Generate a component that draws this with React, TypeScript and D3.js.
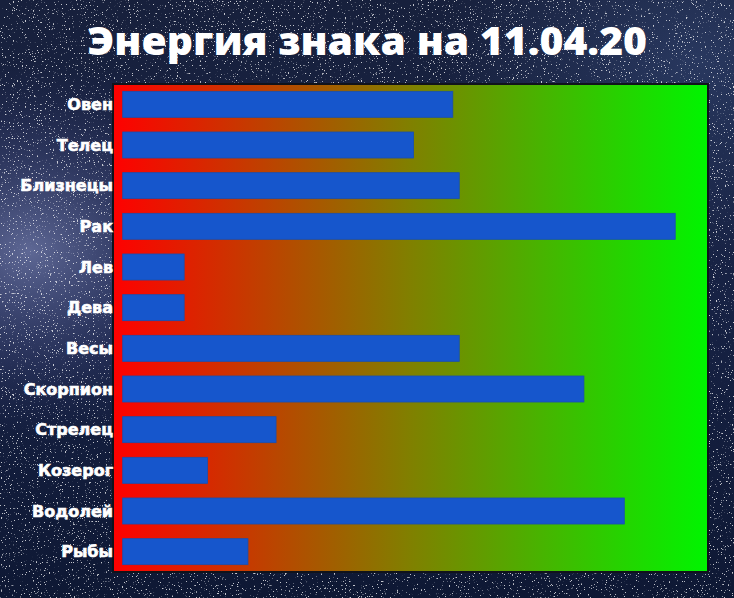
import React from "react";
import * as d3 from "d3";

const signs = ["Овен", "Телец", "Близнецы", "Рак", "Лев", "Дева", "Весы", "Скорпион", "Стрелец", "Козерог", "Водолей", "Рыбы"];
const energy = [56.4, 49.7, 57.5, 94.4, 10.5, 10.5, 57.5, 78.8, 26.2, 14.5, 85.7, 21.4];
const titleText = "Энергия знака на 11.04.20";

const W = 734;
const H = 598;
const plot = { left: 113, top: 84, right: 708, bottom: 572 };
const barStart = 122.7;

export default function App() {
  const y = d3.scaleBand<string>().domain(signs).range([plot.top, plot.bottom]).paddingInner(0.36).paddingOuter(0.18);
  const x = d3.scaleLinear().domain([0, 100]).range([barStart, plot.right]);

  return (
    <svg width={W} height={H} style={{ position: "fixed", left: 0, top: 0, display: "block" }}>
      <defs>
        <linearGradient id="bg" x1="0" y1="0" x2="0" y2="1">
          <stop offset="0" stopColor="#17203c" />
          <stop offset="0.5" stopColor="#172244" />
          <stop offset="1" stopColor="#0e1834" />
        </linearGradient>
        <radialGradient id="milky" cx="0.04" cy="0.42" r="0.32">
          <stop offset="0" stopColor="#7d86b8" stopOpacity="0.7" />
          <stop offset="0.6" stopColor="#4a5288" stopOpacity="0.3" />
          <stop offset="1" stopColor="#2a3060" stopOpacity="0" />
        </radialGradient>
        <radialGradient id="glowR" cx="0.95" cy="0.1" r="0.35">
          <stop offset="0" stopColor="#3a4f80" stopOpacity="0.5" />
          <stop offset="1" stopColor="#3a4f80" stopOpacity="0" />
        </radialGradient>
        <filter id="stars" x="0" y="0" width="1" height="1">
          <feTurbulence type="fractalNoise" baseFrequency="0.75" numOctaves="2" seed="7" result="n" />
          <feColorMatrix in="n" type="matrix" values="0 0 0 0 1  0 0 0 0 1  0 0 0 0 1  14 0 0 0 -9.3" />
        </filter>
        <linearGradient id="energyGrad" x1="0" y1="0" x2="1" y2="0">
          <stop offset="0" stopColor="#ff0000" />
          <stop offset="0.5" stopColor="#808000" />
          <stop offset="1" stopColor="#00f500" />
        </linearGradient>
      </defs>

      <rect x={0} y={0} width={W} height={H} fill="url(#bg)" />
      <rect x={0} y={0} width={W} height={H} fill="url(#milky)" />
      <rect x={0} y={0} width={W} height={H} fill="url(#glowR)" />
      <rect x={0} y={0} width={W} height={H} filter="url(#stars)" opacity={0.75} />

      <text
        x={W / 2}
        y={55}
        textAnchor="middle"
        fill="#ffffff"
        fontFamily="'Open Sans', 'DejaVu Sans', sans-serif"
        fontWeight={800}
        fontSize={39}
        textLength={560}
        lengthAdjust="spacingAndGlyphs"
      >
        {titleText}
      </text>

      <rect
        x={plot.left}
        y={plot.top}
        width={plot.right - plot.left}
        height={plot.bottom - plot.top}
        fill="url(#energyGrad)"
        stroke="#10131c"
        strokeWidth={2}
      />

      {signs.map((s, i) => (
        <rect
          key={s}
          x={x(0)}
          y={y(s)}
          width={x(energy[i]) - x(0)}
          height={y.bandwidth()}
          fill="#1656cc"
          stroke="#1a4fae"
          strokeWidth={0.8}
        />
      ))}

      {signs.map((s) => (
        <text
          key={s}
          x={plot.left}
          y={(y(s) as number) + y.bandwidth() / 2 + 5.5}
          textAnchor="end"
          fill="#ffffff"
          stroke="#ffffff"
          strokeWidth={0.6}
          fontFamily="'DejaVu Sans', sans-serif"
          fontWeight={700}
          fontSize={16}
        >
          {s}
        </text>
      ))}
    </svg>
  );
}
